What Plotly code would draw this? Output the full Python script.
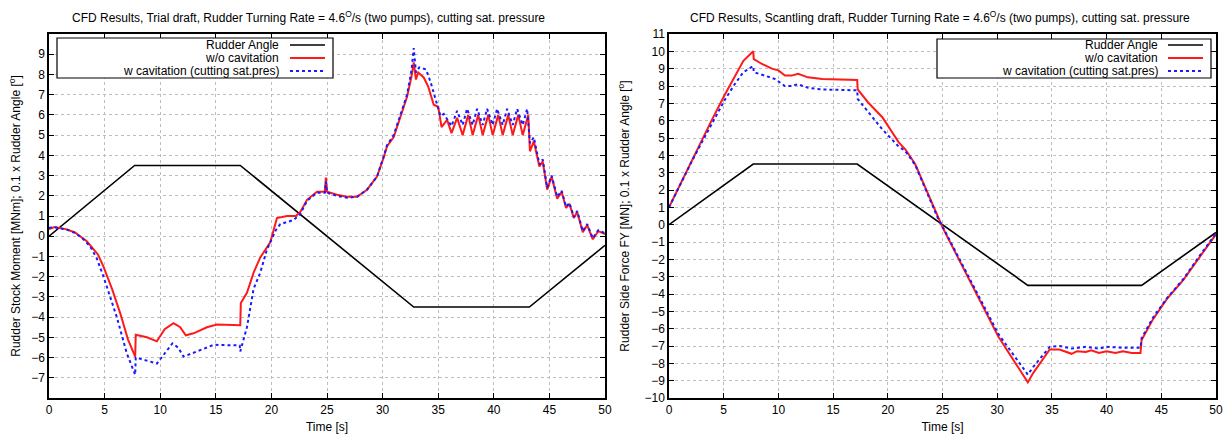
"""
Rudder stock moment / side force vs time, CFD with and without cavitation.
"""
import plotly.graph_objects as go

W, H = 1229, 434

# rudder angle (x0.1), same manoeuvre for both drafts
rudder_t = [0, 7.7, 17.2, 32.8, 43.2, 50]
rudder_v = [0, 3.5, 3.5, -3.5, -3.5, -0.45]

# trial draft, rudder stock moment [MNm], (time, value)
trial_wo = [
    (0, 0.35), (0.5, 0.45), (1.0, 0.4), (1.5, 0.35), (2.3, 0.2), (3.4, -0.25),
    (4.4, -0.9), (4.9, -1.5), (5.7, -2.65), (6.4, -3.8), (7.1, -5.1), (7.75, -5.95),
    (7.8, -4.87), (8.8, -5.0), (9.7, -5.2), (10.4, -4.6), (11.2, -4.3), (11.8, -4.5),
    (12.3, -4.9), (13.0, -4.8), (14.2, -4.5), (15.1, -4.37), (17.2, -4.4), (17.25, -3.3),
    (17.8, -2.8), (18.4, -1.8), (19.0, -1.05), (19.3, -0.8), (19.9, -0.3), (20.5, 0.9),
    (21.4, 1.0), (22.2, 1.0), (22.6, 1.2), (23.2, 1.8), (24.1, 2.2), (24.8, 2.2),
    (24.9, 2.9), (25.0, 2.2), (25.9, 2.05), (26.8, 1.95), (27.7, 1.95), (28.6, 2.3),
    (29.5, 2.95), (30.1, 3.9), (30.4, 4.45), (31.0, 4.9), (31.6, 5.9), (32.2, 6.9),
    (32.6, 7.9), (32.8, 8.6), (33.0, 7.75), (33.2, 8.1), (33.7, 7.85), (34.1, 7.4),
    (34.6, 6.5), (35.0, 6.4), (35.3, 5.4), (35.8, 5.75), (36.2, 5.1), (36.7, 5.85),
    (37.2, 5.0), (37.7, 6.0), (38.1, 5.0), (38.6, 6.0), (39.0, 5.0), (39.5, 6.0),
    (39.9, 5.0), (40.4, 6.0), (40.8, 5.0), (41.3, 6.0), (41.7, 5.0), (42.2, 6.0),
    (42.6, 5.0), (43.1, 6.0), (43.25, 4.2), (43.6, 4.7), (44.1, 3.45), (44.4, 3.7),
    (44.8, 2.3), (45.2, 2.95), (45.7, 1.85), (46.1, 2.2), (46.5, 1.4), (46.8, 1.6),
    (47.2, 0.9), (47.5, 1.2), (48.0, 0.2), (48.4, 0.55), (48.9, -0.15), (49.4, 0.25),
    (50.0, 0.1),
]
trial_w = [
    (0, 0.42), (0.5, 0.45), (1.0, 0.38), (1.5, 0.35), (2.3, 0.17), (3.0, -0.1),
    (3.7, -0.5), (4.3, -1.1), (4.9, -2.0), (5.5, -3.0), (6.1, -4.0), (6.6, -5.0),
    (7.0, -5.8), (7.75, -6.85), (7.8, -6.0), (8.8, -6.15), (9.7, -6.3), (10.4, -5.8),
    (11.1, -5.3), (11.6, -5.5), (12.1, -5.95), (13.3, -5.7), (14.8, -5.37), (17.15, -5.4),
    (17.2, -5.7), (17.8, -4.5), (18.4, -2.6), (19.0, -1.8), (19.6, -0.65), (20.4, 0.3),
    (20.8, 0.6), (22.0, 0.8), (22.6, 1.1), (23.2, 1.75), (24.1, 2.15), (24.8, 2.15),
    (24.9, 2.7), (25.0, 2.15), (25.9, 2.0), (26.8, 1.9), (27.7, 1.95), (28.6, 2.3),
    (29.5, 2.95), (30.1, 3.95), (30.4, 4.5), (31.0, 5.0), (31.6, 6.0), (32.2, 7.0),
    (32.6, 8.2), (32.8, 9.3), (33.0, 8.1), (33.3, 8.35), (33.9, 8.25), (34.3, 7.65),
    (34.8, 6.7), (35.2, 5.95), (35.5, 6.05), (35.8, 5.8), (36.2, 5.45), (36.7, 6.2),
    (37.2, 5.5), (37.6, 6.3), (38.1, 5.5), (38.5, 6.3), (39.0, 5.5), (39.4, 6.3),
    (39.9, 5.5), (40.3, 6.3), (40.8, 5.5), (41.2, 6.3), (41.7, 5.5), (42.1, 6.3),
    (42.6, 5.5), (43.0, 6.3), (43.25, 4.6), (43.6, 4.9), (44.1, 3.55), (44.4, 3.8),
    (44.8, 2.4), (45.2, 3.0), (45.7, 1.95), (46.1, 2.25), (46.5, 1.45), (46.8, 1.65),
    (47.2, 0.95), (47.5, 1.25), (48.0, 0.25), (48.4, 0.6), (48.9, -0.1), (49.4, 0.3),
    (50.0, 0.15),
]

# scantling draft, rudder side force FY [MN]
scant_wo = [
    (0, 1.0), (1, 2.3), (2, 3.6), (3, 4.85), (4, 6.15), (5.1, 7.5), (6.0, 8.5),
    (6.8, 9.45), (7.7, 10.0), (7.75, 9.55), (8.5, 9.27), (9.4, 9.0), (10.0, 8.9),
    (10.6, 8.6), (11.2, 8.6), (11.8, 8.7), (12.7, 8.5), (14.0, 8.4), (17.2, 8.35),
    (17.25, 7.8), (18.2, 7.05), (19.5, 6.2), (21.0, 4.75), (21.6, 4.35), (22.5, 3.5),
    (23.2, 2.45), (24.6, 0.4), (25.0, -0.15), (30.1, -6.45), (32.8, -9.1), (33.3, -8.55),
    (34.8, -7.2), (35.7, -7.2), (36.2, -7.3), (36.8, -7.45), (37.3, -7.3), (38.1, -7.35),
    (38.6, -7.25), (39.3, -7.4), (40.0, -7.3), (40.8, -7.4), (41.5, -7.3), (42.3, -7.4),
    (43.1, -7.4), (43.2, -6.65), (44.2, -5.5), (45.5, -4.3), (47.0, -3.2), (48.5, -1.85),
    (50.0, -0.55),
]
scant_w = [
    (0, 1.0), (1, 2.3), (2, 3.55), (3, 4.75), (4, 5.95), (5.1, 7.2), (6.0, 8.1),
    (6.8, 8.8), (7.7, 9.15), (7.75, 8.8), (8.5, 8.65), (9.7, 8.4), (10.6, 8.0),
    (11.2, 8.0), (11.8, 8.1), (12.7, 7.9), (14.0, 7.8), (17.2, 7.75), (17.25, 7.25),
    (18.2, 6.5), (19.5, 5.5), (21.0, 4.5), (21.6, 4.25), (22.5, 3.45), (23.2, 2.4),
    (24.6, 0.35), (25.0, -0.1), (30.1, -6.3), (32.8, -8.65), (33.3, -8.2), (34.8, -7.05),
    (35.7, -7.0), (36.8, -7.15), (38.1, -7.05), (39.3, -7.15), (40.0, -7.05),
    (41.5, -7.1), (43.1, -7.1), (43.2, -6.55), (44.2, -5.4), (45.5, -4.25),
    (47.0, -3.15), (48.5, -1.8), (50.0, -0.5),
]

title_left = "CFD Results, Trial draft, Rudder Turning Rate = 4.6<sup>O</sup>/s (two pumps), cutting sat. pressure"
title_right = "CFD Results, Scantling draft, Rudder Turning Rate = 4.6<sup>O</sup>/s (two pumps), cutting sat. pressure"
ytitle_left = "Rudder Stock Moment [MNm]; 0.1 x Rudder Angle [<sup>o</sup>]"
ytitle_right = "Rudder Side Force FY [MN]; 0.1 x Rudder Angle [<sup>o</sup>]"
legend_names = ["Rudder Angle", "w/o cavitation", "w cavitation (cutting sat.pres)"]

FONT = "Liberation Sans, Arial, sans-serif"
FS = 12
RED = "#ff1a1a"
BLUE = "#1a1aff"


def px_x(p):
    # page pixel -> paper fraction
    return p / W


def px_y(p):
    return 1 - p / H


def add_series(fig, xa, ya, wo, w):
    fig.add_trace(go.Scatter(x=rudder_t, y=rudder_v, mode="lines", xaxis=xa, yaxis=ya,
                             line=dict(color="black", width=1.6), name=legend_names[0]))
    fig.add_trace(go.Scatter(x=[p[0] for p in wo], y=[p[1] for p in wo], mode="lines",
                             xaxis=xa, yaxis=ya, line=dict(color=RED, width=2), name=legend_names[1]))
    fig.add_trace(go.Scatter(x=[p[0] for p in w], y=[p[1] for p in w], mode="lines",
                             xaxis=xa, yaxis=ya, line=dict(color=BLUE, width=2, dash="dot"),
                             name=legend_names[2]))


fig = go.Figure()
add_series(fig, "x", "y", trial_wo, trial_w)
add_series(fig, "x2", "y2", scant_wo, scant_w)

axis_common = dict(
    showline=True, linecolor="black", linewidth=1.5, mirror="allticks",
    ticks="inside", ticklen=5, tickcolor="black", automargin=False,
    ticklabeloverflow="allow",
    showgrid=True, gridcolor="#bdbdbd", griddash="dot", gridwidth=1,
    zeroline=False, tickfont=dict(family=FONT, size=FS, color="black"),
)
ydom = [px_y(398), px_y(34)]

fig.update_layout(
    width=W, height=H,
    margin=dict(l=0, r=0, t=0, b=0),
    paper_bgcolor="white", plot_bgcolor="white",
    showlegend=False,
    font=dict(family=FONT, size=FS, color="black"),
    xaxis=dict(domain=[px_x(49), px_x(605)], range=[0, 50], dtick=5,
               title=dict(text="Time [s]", standoff=7, font=dict(size=FS)), **axis_common),
    yaxis=dict(domain=ydom, range=[-8, 10], tickvals=list(range(-7, 10)),
               title=dict(text=ytitle_left, standoff=8, font=dict(size=FS)), **axis_common),
    xaxis2=dict(domain=[px_x(669), px_x(1216)], range=[0, 50], dtick=5, anchor="y2",
                title=dict(text="Time [s]", standoff=7, font=dict(size=FS)), **axis_common),
    yaxis2=dict(domain=ydom, range=[-10, 11], dtick=1, anchor="x2",
                title=dict(text=ytitle_right, standoff=12, font=dict(size=FS)), **axis_common),
)

annotations = [
    dict(text=title_left, x=px_x(308), y=px_y(17), xref="paper", yref="paper",
         showarrow=False, font=dict(size=FS), xanchor="center", yanchor="middle"),
    dict(text=title_right, x=px_x(940), y=px_y(17), xref="paper", yref="paper",
         showarrow=False, font=dict(size=FS), xanchor="center", yanchor="middle"),
]
shapes = []

# gnuplot-style key boxes: text right-aligned, line sample to its right
legend_boxes = [
    dict(x0=57, x1=333, y0=38, y1=78, text_right=281, s0=290, s1=325),
    dict(x0=937, x1=1211, y0=39, y1=78, text_right=1160, s0=1168, s1=1203),
]
styles = [dict(color="black", width=1.6), dict(color=RED, width=2),
          dict(color=BLUE, width=2, dash="dot")]
rows = [45, 58, 71]
for b in legend_boxes:
    shapes.append(dict(type="rect", xref="paper", yref="paper",
                       x0=px_x(b["x0"]), x1=px_x(b["x1"]), y0=px_y(b["y1"]), y1=px_y(b["y0"]),
                       line=dict(color="black", width=1.2), fillcolor="white", layer="above"))
    for name, st, ry in zip(legend_names, styles, rows):
        annotations.append(dict(text=name, x=px_x(b["text_right"]), y=px_y(ry),
                                xref="paper", yref="paper", showarrow=False,
                                xanchor="right", yanchor="middle", font=dict(size=FS)))
        shapes.append(dict(type="line", xref="paper", yref="paper",
                           x0=px_x(b["s0"]), x1=px_x(b["s1"]), y0=px_y(ry), y1=px_y(ry),
                           line=st, layer="above"))

fig.update_layout(annotations=annotations, shapes=shapes)
# drop the default body margin so the figure fills the page exactly
fig.write_html("out.html", config={"displayModeBar": False},
               post_script="document.body.style.margin='0';")
